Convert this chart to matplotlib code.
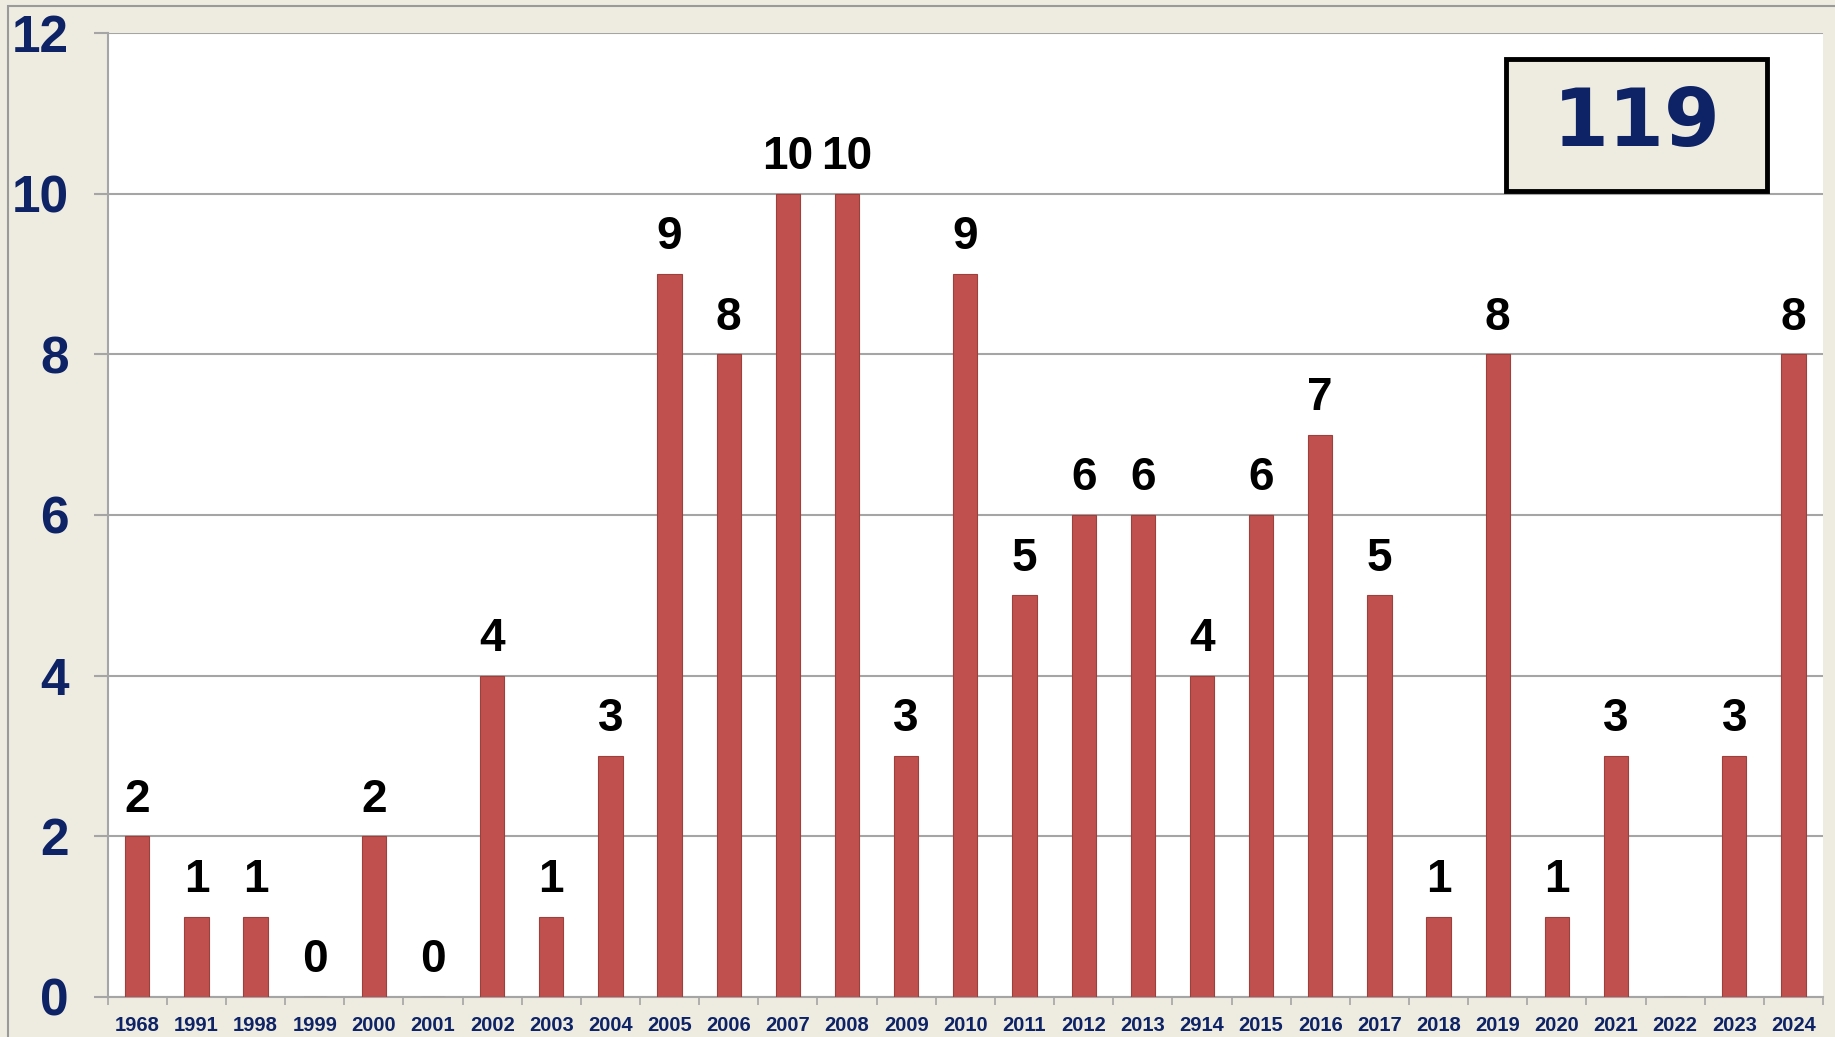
import numpy as np
import matplotlib.pyplot as plt
from matplotlib.patches import Rectangle
from matplotlib.transforms import ScaledTranslation

years = ['1968', '1991', '1998', '1999', '2000', '2001', '2002', '2003', '2004',
         '2005', '2006', '2007', '2008', '2009', '2010', '2011', '2012', '2013',
         '2914', '2015', '2016', '2017', '2018', '2019', '2020', '2021', '2022',
         '2023', '2024']
counts = [2, 1, 1, 0, 2, 0, 4, 1, 3, 9, 8, 10, 10, 3, 9, 5, 6, 6, 4, 6, 7, 5,
          1, 8, 1, 3, None, 3, 8]
total_label = '119'
yticks = [0, 2, 4, 6, 8, 10, 12]

BEIGE = '#EEECE1'
NAVY = '#0D2366'
BAR = '#C0504D'
GRID = '#A5A5A5'

plt.rcParams['font.family'] = ['Liberation Sans', 'DejaVu Sans']

fig = plt.figure(figsize=(18.35, 10.37), dpi=100)
fig.patch.set_facecolor(BEIGE)
# outer frame (left and top edges visible)
fig.patches.append(Rectangle((8 / 1835, -0.1), 1.2, 1.1 - 6 / 1037,
                             transform=fig.transFigure, fill=False,
                             edgecolor='#9A9A9A', linewidth=1.5))

ax = fig.add_axes([107.7 / 1835, 40 / 1037, (1823 - 107.7) / 1835, (997 - 33) / 1037])
ax.set_facecolor('white')

x = np.arange(len(years))
vals = np.array([np.nan if v is None else v for v in counts], dtype=float)
ax.bar(x, np.nan_to_num(vals), width=0.41, color=BAR, edgecolor='#9E3F3C',
       linewidth=0.8, zorder=3)

for xi, v in zip(x, counts):
    if v is None:
        continue
    ax.annotate(str(v), (xi, v), xytext=(0, 10.5), textcoords='offset points',
                ha='center', va='bottom', fontsize=33, fontweight='bold',
                color='black', zorder=4)

ax.set_xlim(-0.5, len(years) - 0.5)
ax.set_ylim(0, 12)
ax.set_yticks(yticks)
ax.set_yticklabels([str(t) for t in yticks], fontsize=37, fontweight='bold', color=NAVY)
lift = ScaledTranslation(0, 0.04, fig.dpi_scale_trans)
for lab in ax.get_yticklabels():
    lab.set_transform(lab.get_transform() + lift)
ax.yaxis.grid(True, color=GRID, linewidth=1.5, zorder=0)
ax.set_axisbelow(True)

ax.set_xticks(x)
ax.set_xticklabels(years, fontsize=14.5, fontweight='bold', color=NAVY)
ax.set_xticks(np.arange(-0.5, len(years)), minor=True)
ax.tick_params(axis='x', which='major', length=0, pad=14)
ax.tick_params(axis='x', which='minor', length=6, color=GRID, width=1.2)
ax.tick_params(axis='y', length=10, color=GRID, width=1.5, pad=18)

for s in ['top', 'right']:
    ax.spines[s].set_visible(False)
for s in ['left', 'bottom']:
    ax.spines[s].set_color(GRID)
    ax.spines[s].set_linewidth(1.5)

# total count box
bx0, bx1, by0, by1 = 1506, 1767, 59, 191
fig.patches.append(Rectangle((bx0 / 1835, 1 - by1 / 1037), (bx1 - bx0) / 1835,
                             (by1 - by0) / 1037, transform=fig.transFigure,
                             facecolor=BEIGE, edgecolor='black', linewidth=3.5,
                             zorder=5))
fig.text((bx0 + bx1) / 2 / 1835, 1 - 124 / 1037, total_label, ha='center',
         va='center', fontsize=58, fontweight='bold', color=NAVY,
         family='DejaVu Sans', zorder=6)

fig.savefig('out.png', dpi=100, facecolor=BEIGE)
